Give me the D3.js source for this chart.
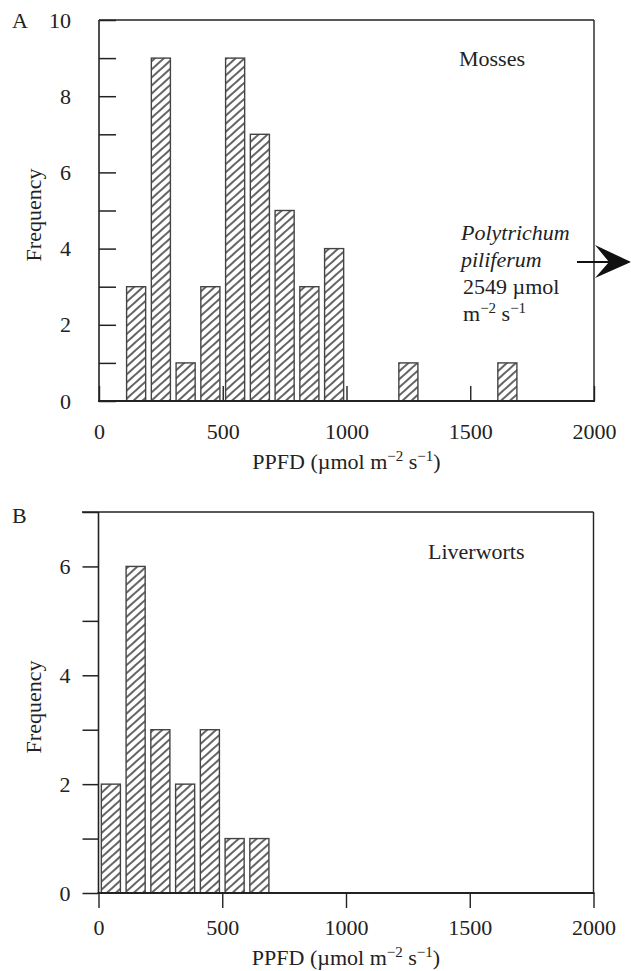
<!DOCTYPE html>
<html><head><meta charset="utf-8">
<script src="https://cdn.jsdelivr.net/npm/d3@7"></script>
<style>
body{margin:0;background:#fff}
text{font-family:"Liberation Serif","Times New Roman",serif;fill:#222}
</style></head>
<body>
<svg id="c" width="631" height="971"></svg>
<script>
// Data
const mossBins = [150, 250, 350, 450, 550, 650, 750, 850, 950, 1250, 1650];
const mossFreq = [3, 9, 1, 3, 9, 7, 5, 3, 4, 1, 1];
const liverBins = [50, 150, 250, 350, 450, 550, 650];
const liverFreq = [2, 6, 3, 2, 3, 1, 1];
const xTicks = [0, 500, 1000, 1500, 2000];
const yTicksA = [0,1,2,3,4,5,6,7,8,9,10];
const yTicksB = [0,1,2,3,4,5,6,7];
const barHalf = 38.5;

const svg = d3.select("#c");
const defs = svg.append("defs");
const pat = defs.append("pattern").attr("id","hatch").attr("patternUnits","userSpaceOnUse")
  .attr("width",6).attr("height",6).attr("patternTransform","rotate(-42)");
pat.append("rect").attr("width",6).attr("height",6).attr("fill","#fff");
pat.append("line").attr("x1",0).attr("y1",3).attr("x2",6).attr("y2",3)
  .attr("stroke","#111").attr("stroke-width",1.3);

const FS = 22;

function panel(o){
  const x = d3.scaleLinear().domain([0,2000]).range([o.x0,o.x1]);
  const y = d3.scaleLinear().domain([0,o.ymax]).range([o.y0,o.y1]);
  const g = svg.append("g");
  // bars
  g.selectAll("rect.bar").data(o.bins.map((b,i)=>({b,f:o.freq[i]}))).enter().append("rect")
    .attr("x",d=>x(d.b-barHalf)).attr("width",d=>x(d.b+barHalf)-x(d.b-barHalf))
    .attr("y",d=>y(d.f)).attr("height",d=>y(0)-y(d.f))
    .attr("fill","url(#hatch)").attr("stroke","#444").attr("stroke-width",1.4);
  // y axis
  const ya = d3.axisLeft(y).tickValues(o.yTicks).tickSize(o.yTickSize).tickSizeOuter(0)
    .tickPadding(o.yPad).tickFormat(d=> (d%2===0 && d<=o.yLabMax) ? d : "");
  const yg = g.append("g").attr("transform",`translate(${o.x0},0)`).call(ya);
  yg.select(".domain").remove();
  yg.selectAll("line").attr("stroke","#222").attr("stroke-width",1.5);
  yg.selectAll("text").style("font-size",FS+"px").style("font-family","Liberation Serif").attr("fill","#222");
  // x axis
  const xa = d3.axisBottom(x).tickValues(o.xTicks).tickSize(o.xTickSize).tickSizeOuter(0)
    .tickPadding(o.xPad).tickFormat(d3.format("d"));
  const xg = g.append("g").attr("transform",`translate(0,${o.y0})`).call(xa);
  xg.select(".domain").remove();
  xg.selectAll("line").attr("stroke","#222").attr("stroke-width",1.4);
  xg.selectAll("text").style("font-size",FS+"px").style("font-family","Liberation Serif").attr("fill","#222");
  // frame
  g.append("line").attr("x1",o.x0).attr("x2",o.x0).attr("y1",o.y1).attr("y2",o.y0).attr("stroke","#222").attr("stroke-width",1.6);
  g.append("line").attr("x1",o.topStart).attr("x2",o.x1).attr("y1",o.y1).attr("y2",o.y1).attr("stroke","#222").attr("stroke-width",1.4);
  g.append("line").attr("x1",o.x1).attr("x2",o.x1).attr("y1",o.y1).attr("y2",o.y0).attr("stroke","#222").attr("stroke-width",1.4);
  g.append("line").attr("x1",o.x0-1).attr("x2",o.x1+1).attr("y1",o.y0).attr("y2",o.y0).attr("stroke","#222").attr("stroke-width",2.2);
  // labels
  g.append("text").attr("x",12).attr("y",o.letterY).style("font-size",FS+"px").text(o.letter);
  g.append("text").attr("transform",`translate(41,${o.freqY}) rotate(-90)`).attr("text-anchor","middle")
    .style("font-size",FS+"px").text("Frequency");
  const xl = g.append("text").attr("x",x(1000)).attr("y",o.xLabY).attr("text-anchor","middle").style("font-size",FS+"px");
  xl.append("tspan").text("PPFD (\u00b5mol m");
  xl.append("tspan").attr("dy",-8).style("font-size","15px").text("\u22122");
  xl.append("tspan").attr("dy",8).text(" s");
  xl.append("tspan").attr("dy",-8).style("font-size","15px").text("\u22121");
  xl.append("tspan").attr("dy",8).text(")");
  g.append("text").attr("x",o.titleX).attr("y",o.titleY).style("font-size",FS+"px").text(o.title);
  return {x,y,g};
}

const A = panel({x0:99,x1:594,y0:401,y1:20,ymax:10,bins:mossBins,freq:mossFreq,yTicks:yTicksA,
  yTickSize:-17,yPad:28,yLabMax:10,xTicks:xTicks,xTickSize:-15,xPad:22,
  topStart:99,letter:"A",letterY:28,freqY:215,xLabY:469,title:"Mosses",titleX:459,titleY:66});
const B = panel({x0:98.5,x1:593.5,y0:893,y1:512,ymax:7,bins:liverBins,freq:liverFreq,yTicks:yTicksB,
  yTickSize:16,yPad:12,yLabMax:6,xTicks:xTicks,xTickSize:15,xPad:11,
  topStart:82,letter:"B",letterY:523,freqY:707,xLabY:965,title:"Liverworts",titleX:428,titleY:559});

// Annotation in panel A
const ann = svg.append("g").style("font-size",FS+"px");
ann.append("text").attr("x",461).attr("y",240).style("font-style","italic").text("Polytrichum");
ann.append("text").attr("x",461).attr("y",267).style("font-style","italic").text("piliferum");
ann.append("text").attr("x",463).attr("y",294).text("2549 \u00b5mol");
const t4 = ann.append("text").attr("x",463).attr("y",321);
t4.append("tspan").text("m");
t4.append("tspan").attr("dy",-8).style("font-size","15px").text("\u22122");
t4.append("tspan").attr("dy",8).text(" s");
t4.append("tspan").attr("dy",-8).style("font-size","15px").text("\u22121");
// arrow
svg.append("line").attr("x1",577).attr("x2",612).attr("y1",262).attr("y2",262).attr("stroke","#111").attr("stroke-width",2.2);
svg.append("path").attr("d","M595,245 L631,262 L595,278 L609,262 Z").attr("fill","#111");
</script>
</body></html>
